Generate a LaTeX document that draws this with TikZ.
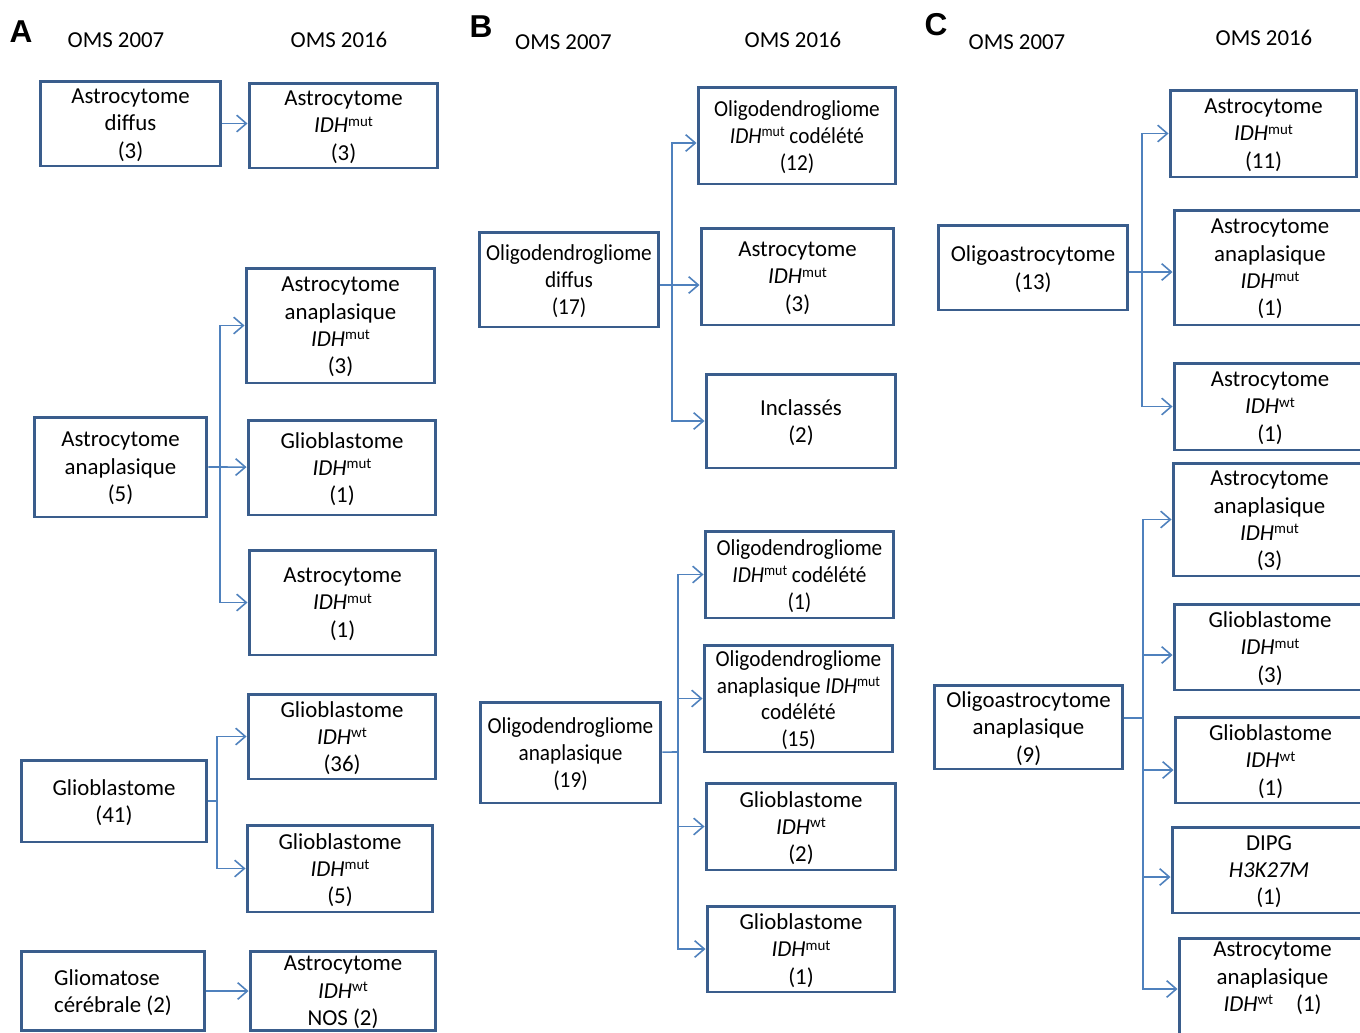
\documentclass[tikz,border=0pt]{standalone}
\usepackage{fontspec}
\setmainfont{Carlito}
\newfontfamily\narrowfont{Carlito}[FakeStretch=0.93]
\newfontfamily\panelfont{Liberation Sans}
\usetikzlibrary{arrows.meta}
\definecolor{boxblue}{HTML}{3A5D8C}
\definecolor{linkblue}{HTML}{4F81BD}
\newcommand{\idh}[1]{\textit{IDH}\raisebox{3.8pt}{\fontsize{8.5}{9}\selectfont #1}}

\begin{document}
\begin{tikzpicture}[x=0.02cm,y=-0.02cm]
\tikzstyle{box}=[rectangle,draw=boxblue,line width=1.7pt,inner sep=0pt,align=center,text depth=0pt,font=\fontsize{13}{15.6}\selectfont]
\tikzstyle{narrow}=[font=\narrowfont\fontsize{13}{15.2}\selectfont]
\tikzstyle{head}=[inner sep=0pt,font=\fontsize{13}{15.6}\selectfont]
\tikzstyle{panel}=[inner sep=0pt,font=\panelfont\bfseries\fontsize{18}{20}\selectfont]
\tikzstyle{conn}=[draw=linkblue,line width=0.9pt]
\tikzstyle{arr}=[conn,-{Straight Barb[length=5.5pt,width=9.5pt]}]

\useasboundingbox (0,0) rectangle (1360,1032);
\clip (0,0) rectangle (1360,1032);

% A
\node[panel] (lA) at (21,32) {A};
\node[head] (hA07) at (116,40) {OMS 2007};
\node[head] (hA16) at (339,40) {OMS 2016};
\node[box,minimum width=3.62cm,minimum height=1.70cm] (A1) at (130.5,123.5) {Astrocytome\\diffus\\(3)};
\node[box,minimum width=3.78cm,minimum height=1.70cm] (A1a) at (343.5,125.5) {Astrocytome\\\idh{mut}\\(3)};
\node[box,minimum width=3.46cm,minimum height=2.00cm] (A2) at (120.5,467) {Astrocytome\\anaplasique\\(5)};
\node[box,minimum width=3.78cm,minimum height=2.30cm] (A2a) at (340.5,325.5) {Astrocytome\\anaplasique\\\idh{mut}\\(3)};
\node[box,minimum width=3.76cm,minimum height=1.90cm] (A2b) at (342,467.5) {Glioblastome\\\idh{mut}\\(1)};
\node[box,minimum width=3.74cm,minimum height=2.10cm] (A2c) at (342.5,602.5) {Astrocytome\\\idh{mut}\\(1)};
\node[box,minimum width=3.72cm,minimum height=1.64cm] (A3) at (114,801) {Glioblastome\\(41)};
\node[box,minimum width=3.76cm,minimum height=1.70cm] (A3a) at (342,736.5) {Glioblastome\\\idh{wt}\\(36)};
\node[box,minimum width=3.72cm,minimum height=1.74cm] (A3b) at (340,868.5) {Glioblastome\\\idh{mut}\\(5)};
\node[box,align=left,minimum width=3.68cm,minimum height=1.58cm] (A4) at (113,991) {Gliomatose\\cérébrale (2)};
\node[box,minimum width=3.72cm,minimum height=1.58cm] (A4a) at (343,991) {Astrocytome\\\idh{wt}\\NOS (2)};

\draw[arr] (A1.east) -- (A1.east -| A1a.west);
\coordinate (jA2) at (220,467);
\draw[arr] (A2) -- (jA2) -- (A2b);
\draw[arr] (jA2) |- (A2a);
\draw[arr] (jA2) |- (A2c);
\coordinate (jA3) at (217,801);
\draw[conn] (A3) -- (jA3);
\draw[arr] (jA3) |- (A3a);
\draw[arr] (jA3) |- (A3b);
\draw[arr] (A4) -- (A4a);

% B
\node[panel] (lB) at (481,27) {B};
\node[head] (hB07) at (563.5,42.5) {OMS 2007};
\node[head] (hB16) at (793,39.5) {OMS 2016};
\node[box,narrow,minimum width=3.60cm,minimum height=1.90cm] (B1) at (569,279.5) {Oligodendrogliome\\diffus\\(17)};
\node[box,narrow,minimum width=3.96cm,minimum height=1.94cm] (B1a) at (797,135.5) {Oligodendrogliome\\\idh{mut} codélété\\(12)};
\node[box,minimum width=3.86cm,minimum height=1.94cm] (B1b) at (797.5,276.5) {Astrocytome\\\idh{mut}\\(3)};
\node[box,minimum width=3.80cm,minimum height=1.88cm] (B1c) at (801,421) {Inclassés\\(2)};
\node[box,narrow,minimum width=3.62cm,minimum height=2.02cm] (B2) at (570.5,752.5) {Oligodendrogliome\\anaplasique\\(19)};
\node[box,narrow,minimum width=3.78cm,minimum height=1.74cm] (B2a) at (799.5,574.5) {Oligodendrogliome\\\idh{mut} codélété\\(1)};
\node[box,narrow,minimum width=3.78cm,minimum height=2.14cm] (B2b) at (798.5,698.5) {Oligodendrogliome\\anaplasique \idh{mut}\\codélété\\(15)};
\node[box,minimum width=3.80cm,minimum height=1.74cm] (B2c) at (801,826.5) {Glioblastome\\\idh{wt}\\(2)};
\node[box,minimum width=3.76cm,minimum height=1.72cm] (B2d) at (801,949) {Glioblastome\\\idh{mut}\\(1)};

\coordinate (jB1) at (672,285);
\draw[conn] (B1.east |- jB1) -- (jB1);
\draw[arr] (jB1) -- (jB1 -| B1b.west);
\draw[arr] (jB1) |- ([yshift=-0.15cm]B1a.west);
\draw[arr] (jB1) |- (B1c);
\coordinate (jB2) at (678,752);
\draw[conn] (B2) -- (jB2);
\draw[arr] (jB2) |- (B2a);
\draw[arr] (jB2) |- (B2b);
\draw[arr] (jB2) |- (B2c);
\draw[arr] (jB2) |- (B2d);

% C
\node[panel] (lC) at (936,25) {C};
\node[head] (hC07) at (1017,42) {OMS 2007};
\node[head] (hC16) at (1264,38) {OMS 2016};
\node[box,minimum width=3.80cm,minimum height=1.70cm] (C1) at (1033,267.5) {Oligoastrocytome\\(13)};
\node[box,minimum width=3.74cm,minimum height=1.74cm] (C1a) at (1263.5,133.5) {Astrocytome\\\idh{mut}\\(11)};
\node[box,minimum width=3.84cm,minimum height=2.30cm] (C1b) at (1270,267.5) {Astrocytome\\anaplasique\\\idh{mut}\\(1)};
\node[box,minimum width=3.84cm,minimum height=1.74cm] (C1c) at (1270,406.5) {Astrocytome\\\idh{wt}\\(1)};
\node[box,minimum width=3.78cm,minimum height=1.68cm] (C2) at (1028.5,727) {Oligoastrocytome\\anaplasique\\(9)};
\node[box,minimum width=3.86cm,minimum height=2.26cm] (C2a) at (1269.5,519.5) {Astrocytome\\anaplasique\\\idh{mut}\\(3)};
\node[box,minimum width=3.84cm,minimum height=1.72cm] (C2b) at (1270,647) {Glioblastome\\\idh{mut}\\(3)};
\node[box,minimum width=3.82cm,minimum height=1.72cm] (C2c) at (1270.5,760) {Glioblastome\\\idh{wt}\\(1)};
\node[box,minimum width=3.88cm,minimum height=1.72cm] (C2d) at (1269,870) {DIPG\\\textit{H3K27M}\\(1)};
\node[box,text depth=14pt,minimum width=3.74cm,minimum height=2.04cm] (C2e) at (1272.5,989) {Astrocytome\\anaplasique\\\idh{wt}\quad(1)};

\coordinate (jC1) at (1142,272);
\draw[conn] (C1.east |- jC1) -- (jC1);
\draw[arr] (jC1) -- (jC1 -| C1b.west);
\draw[arr] (jC1) |- (C1a);
\draw[arr] (jC1) |- (C1c);
\coordinate (jC2) at (1143,718);
\draw[conn] (C2.east |- jC2) -- (jC2);
\draw[arr] (jC2) |- (C2a);
\draw[arr] (jC2) |- ([yshift=-0.16cm]C2b.west);
\draw[arr] (jC2) |- ([yshift=-0.2cm]C2c.west);
\draw[arr] (jC2) |- ([yshift=-0.14cm]C2d.west);
\draw[arr] (jC2) |- (C2e);

\end{tikzpicture}
\end{document}
